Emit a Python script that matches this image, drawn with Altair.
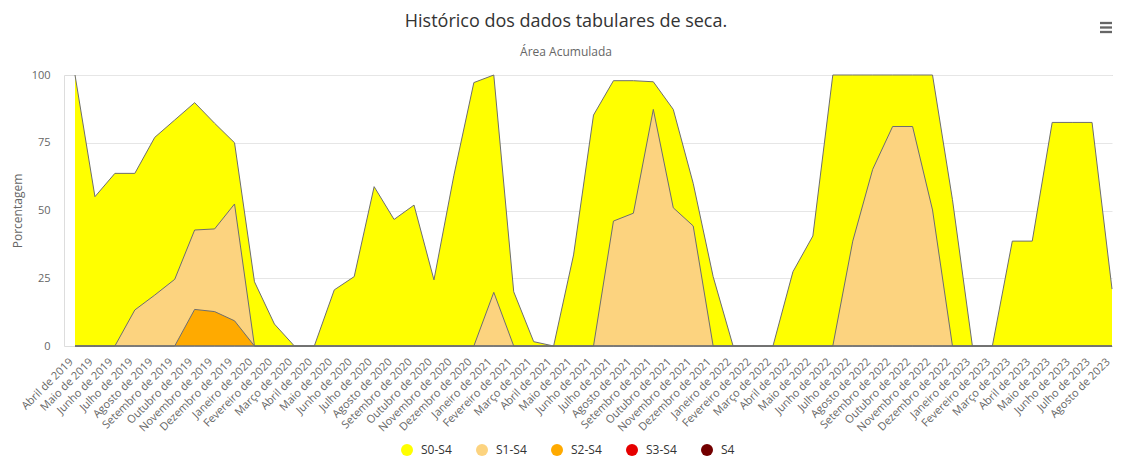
import altair as alt
import pandas as pd

months = [
    "Abril de 2019", "Maio de 2019", "Junho de 2019", "Julho de 2019", "Agosto de 2019",
    "Setembro de 2019", "Outubro de 2019", "Novembro de 2019", "Dezembro de 2019",
    "Janeiro de 2020", "Fevereiro de 2020", "Março de 2020", "Abril de 2020", "Maio de 2020",
    "Junho de 2020", "Julho de 2020", "Agosto de 2020", "Setembro de 2020", "Outubro de 2020",
    "Novembro de 2020", "Dezembro de 2020",
    "Janeiro de 2021", "Fevereiro de 2021", "Março de 2021", "Abril de 2021", "Maio de 2021",
    "Junho de 2021", "Julho de 2021", "Agosto de 2021", "Setembro de 2021", "Outubro de 2021",
    "Novembro de 2021", "Dezembro de 2021",
    "Janeiro de 2022", "Fevereiro de 2022", "Março de 2022", "Abril de 2022", "Maio de 2022",
    "Junho de 2022", "Julho de 2022", "Agosto de 2022", "Setembro de 2022", "Outubro de 2022",
    "Novembro de 2022", "Dezembro de 2022",
    "Janeiro de 2023", "Fevereiro de 2023", "Março de 2023", "Abril de 2023", "Maio de 2023",
    "Junho de 2023", "Julho de 2023", "Agosto de 2023",
]

s0_s4 = [100, 55.1, 63.7, 63.7, 77, 83.4, 89.8, 82.2, 75,
         23.7, 8.1, 0, 0, 20.7, 25.6, 58.8, 46.7, 52, 24.4, 63, 97.2,
         100, 20, 1.6, 0, 33.6, 85.2, 97.9, 97.9, 97.5, 87.3, 60, 25.6,
         0, 0, 0, 27.4, 40.6, 100, 100, 100, 100, 100, 100, 54,
         0, 0, 38.7, 38.7, 82.5, 82.5, 82.5, 21]
s1_s4 = [0, 0, 0, 13.3, 18.8, 24.6, 42.8, 43.2, 52.4,
         0, 0, 0, 0, 0, 0, 0, 0, 0, 0, 0, 0,
         19.8, 0, 0, 0, 0, 0, 46.1, 49, 87.3, 51, 44.3, 0,
         0, 0, 0, 0, 0, 0, 38.7, 65.2, 81, 81, 50.2, 0,
         0, 0, 0, 0, 0, 0, 0, 0]
s2_s4 = [0, 0, 0, 0, 0, 0, 13.5, 12.7, 9.3] + [0] * 44
s3_s4 = [0] * 53
s4 = [0] * 53

series_names = ["S0-S4", "S1-S4", "S2-S4", "S3-S4", "S4"]
series_colors = ["#FFFF00", "#FCD37F", "#FFAA00", "#E60000", "#730000"]
series_values = [s0_s4, s1_s4, s2_s4, s3_s4, s4]

title_text = "Histórico dos dados tabulares de seca."
subtitle_text = "Área Acumulada"
y_title = "Porcentagem"
y_ticks = [0, 25, 50, 75, 100]

rows = []
for name, vals in zip(series_names, series_values):
    for m, v in zip(months, vals):
        rows.append({"mes": m, "serie": name, "valor": v})
df = pd.DataFrame(rows)

FONT = "Open Sans"

x_enc = alt.X(
    "mes:N",
    sort=months,
    scale=alt.Scale(type="point", range=[11, 1048], padding=0),
    axis=alt.Axis(
        title=None, labelAngle=-45, labelAlign="right", labelBaseline="middle",
        labelPadding=14, labelOffset=-4, labelFontSize=11, labelColor="#666666",
        labelFont=FONT, labelOverlap=False, ticks=False, domainColor="#ccd6eb",
        grid=False,
    ),
)
y_enc = alt.Y(
    "valor:Q",
    scale=alt.Scale(domain=[0, 100], nice=False),
    axis=alt.Axis(
        title=y_title, titleFont=FONT, titleFontSize=12, titleColor="#666666",
        titleFontWeight="normal", titlePadding=7,
        values=y_ticks, labelFontSize=11, labelColor="#666666", labelFont=FONT,
        labelPadding=14, ticks=False, domain=False, gridColor="#e6e6e6",
    ),
)
color_enc = alt.Color(
    "serie:N",
    scale=alt.Scale(domain=series_names, range=series_colors),
    legend=alt.Legend(
        title=None, orient="none", direction="horizontal", legendX=337, legendY=369,
        symbolType="circle", symbolSize=144, symbolStrokeWidth=0, symbolOpacity=1,
        labelFont=FONT, labelFontSize=12, labelColor="#333333", labelOffset=8,
        columnPadding=24,
    ),
)

base = alt.Chart(df)
layers = []
for name in series_names:
    layers.append(
        base.transform_filter(alt.datum.serie == name)
        .mark_area(opacity=1, interpolate="linear")
        .encode(x=x_enc, y=y_enc, color=color_enc)
    )
layers.append(
    base.mark_line(color="#6e6e6e", strokeWidth=1)
    .encode(x=x_enc, y=y_enc, detail="serie:N")
)

one = pd.DataFrame({"t": [title_text], "s": [subtitle_text]})
title_layer = alt.Chart(one).mark_text(
    font=FONT, fontSize=18, color="#333333", align="center", baseline="middle"
).encode(text="t:N", x=alt.value(502), y=alt.value(-53))
subtitle_layer = alt.Chart(one).mark_text(
    font=FONT, fontSize=12, color="#666666", align="center", baseline="middle"
).encode(text="s:N", x=alt.value(502), y=alt.value(-23))

menu_layers = []
for yy in [-52, -47.5, -43]:
    menu_layers.append(
        alt.Chart(one).mark_rule(color="#666666", strokeWidth=2.3)
        .encode(x=alt.value(1036), x2=alt.value(1048), y=alt.value(yy))
    )

chart = alt.layer(*layers, title_layer, subtitle_layer, *menu_layers).properties(
    width=1049, height=271,
    autosize=alt.AutoSizeParams(type="none"),
    padding={"left": 56, "top": 67, "right": 0, "bottom": 111},
).configure_view(stroke=None).configure(background="white")

chart.save("out.html", embed_options={"renderer": "svg", "actions": False})
